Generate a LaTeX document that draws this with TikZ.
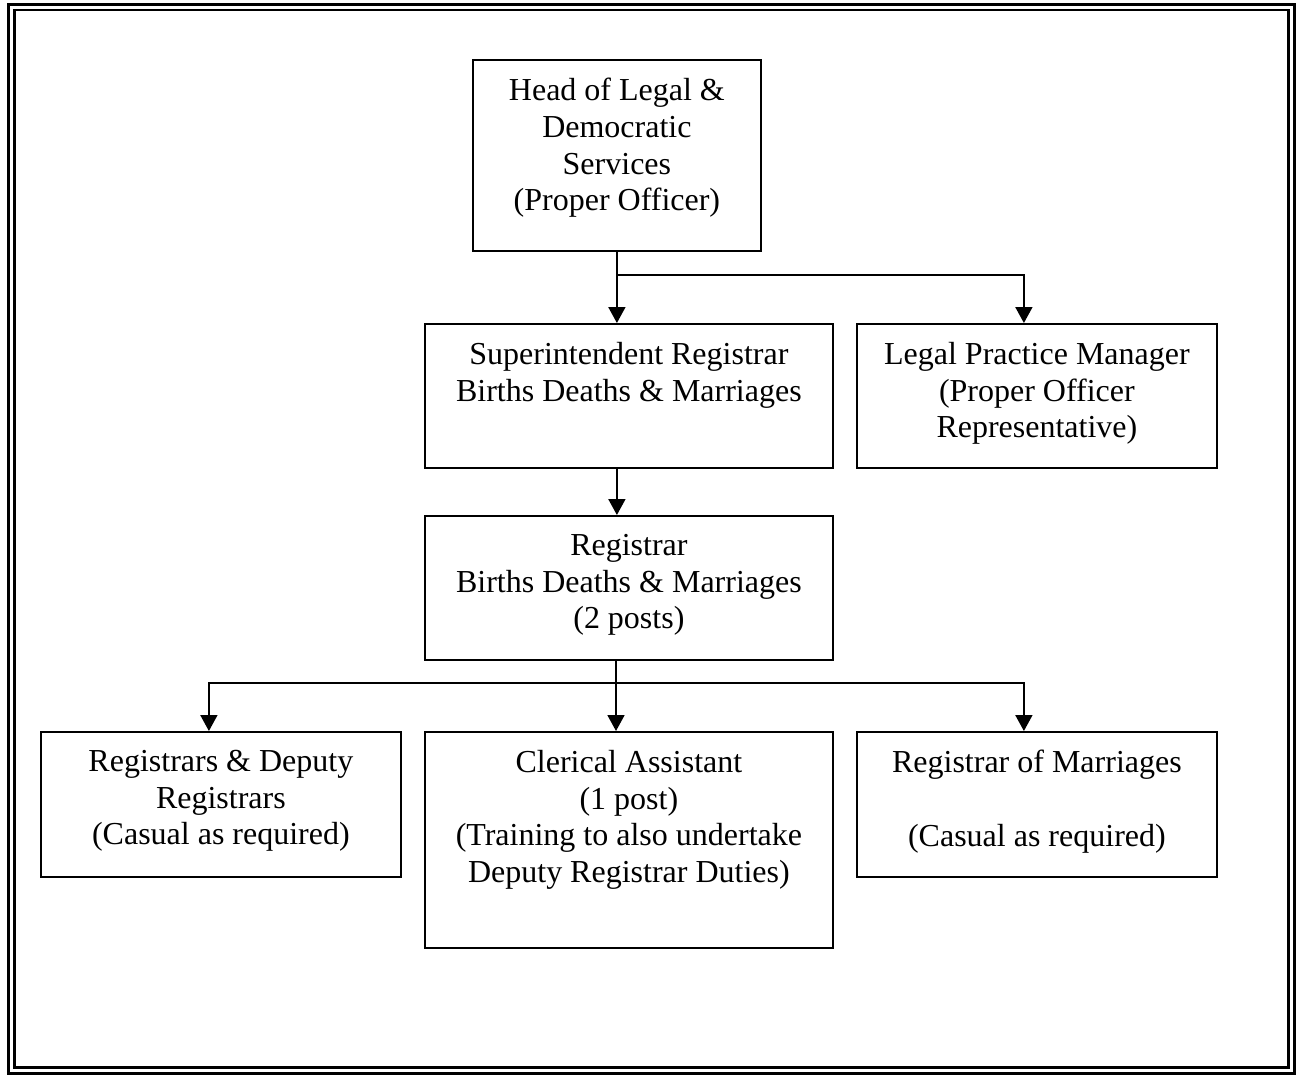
\documentclass[tikz,border=0pt]{standalone}
\usepackage{fontspec}
\setmainfont{Liberation Serif}
\usetikzlibrary{positioning, arrows.meta}
\tikzset{
  post/.style={draw, line width=1.8pt, fill=white, anchor=north west, inner sep=0pt},
  posttext/.style={align=center, font=\fontsize{32}{36.7}\selectfont, inner sep=0pt,
                   anchor=north, yshift=-19pt},
  feed/.style={line width=1.8pt, -{Triangle[width=17pt, length=16pt]}},
}
\begin{document}
\begin{tikzpicture}[x=1pt, y=-1pt]
  \useasboundingbox (0,0) rectangle (1303,1079);
  % double frame
  \draw[line width=3pt] (8.5,4) rectangle (1294.5,1073.5);
  \draw[line width=2.5pt] (14.5,10) rectangle (1288.5,1067.5);

  \node[post, minimum width=288, minimum height=191,
        label={[posttext]north:{Head of Legal \&\\Democratic\\Services\\(Proper Officer)}}] (head) at (472,59) {};
  \node[post, minimum width=408, minimum height=144,
        label={[posttext]north:{Superintendent Registrar\\Births Deaths \& Marriages}}] (sup) at (424,323) {};
  \node[post, minimum width=360, minimum height=144,
        label={[posttext]north:{Legal Practice Manager\\(Proper Officer\\Representative)}}] (lpm) at (856,323) {};
  \node[post, minimum width=408, minimum height=144,
        label={[posttext]north:{Registrar\\Births Deaths \& Marriages\\(2 posts)}}] (reg) at (424,515) {};
  \node[post, minimum width=360, minimum height=145,
        label={[posttext]north:{Registrars \& Deputy\\Registrars\\(Casual as required)}}] (rdr) at (40,731) {};
  \node[post, minimum width=408, minimum height=216,
        label={[posttext]north:{Clerical Assistant\\(1 post)\\(Training to also undertake\\Deputy Registrar Duties)}}] (cler) at (424,731) {};
  \node[post, minimum width=360, minimum height=145,
        label={[posttext]north:{Registrar of Marriages\\~\\(Casual as required)}}] (rom) at (856,731) {};

  % junctions
  \coordinate (j1) at (616,275);
  \coordinate (j2) at (616,683);

  \draw[feed] (head.south) -- (head.south |- sup.north);
  \draw[feed] (j1) -| ([xshift=-13pt]lpm.north);
  \draw[feed] (sup.south -| head.south) -- (reg.north -| head.south);
  \draw[line width=1.8pt] (reg.south -| j2) -- (j2);
  \draw[feed] (j2) -| ([xshift=-12pt]rdr.north);
  \draw[feed] (j2) -- (j2 |- cler.north);
  \draw[feed] (j2) -| ([xshift=-13pt]rom.north);
\end{tikzpicture}
\end{document}
